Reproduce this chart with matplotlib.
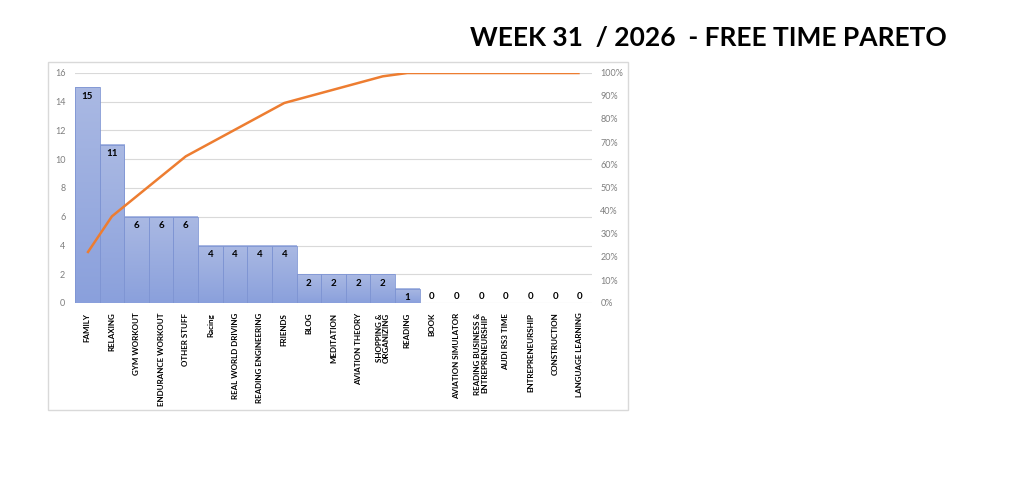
import numpy as np
import matplotlib
matplotlib.use("Agg")
import matplotlib.pyplot as plt
from matplotlib.patches import Rectangle
from matplotlib.ticker import PercentFormatter
from matplotlib.colors import LinearSegmentedColormap

categories = ["FAMILY", "RELAXING", "GYM WORKOUT", "ENDURANCE WORKOUT", "OTHER STUFF",
              "Racing", "REAL WORLD DRIVING", "READING ENGINEERING", "FRIENDS", "BLOG",
              "MEDITATION", "AVIATION THEORY", "SHOPPING &\nORGANIZING", "READING",
              "BOOK", "AVIATION SIMULATOR", "READING BUSINESS &\nENTREPRENEURSHIP",
              "AUDI RS3 TIME", "ENTREPRENEURSHIP", "CONSTRUCTION", "LANGUAGE LEARNING"]
hours = [15, 11, 6, 6, 6, 4, 4, 4, 4, 2, 2, 2, 2, 1, 0, 0, 0, 0, 0, 0, 0]
left_ticks = [0, 2, 4, 6, 8, 10, 12, 14, 16]
right_ticks = [0, 0.1, 0.2, 0.3, 0.4, 0.5, 0.6, 0.7, 0.8, 0.9, 1.0]
title = "WEEK 31  / 2026  - FREE TIME PARETO"

plt.rcParams['font.family'] = ['Lato', 'DejaVu Sans']

W, H = 1023, 484
fig = plt.figure(figsize=(W / 100, H / 100), dpi=100)
fig.patch.set_facecolor("white")

# chart border
fig.patches.append(Rectangle((48 / W, 1 - 410 / H), (628 - 48) / W, (410 - 62) / H,
                             transform=fig.transFigure, fill=False,
                             edgecolor="#d9d9d9", linewidth=1.0))

ax = fig.add_axes([75 / W, 1 - 303 / H, (592 - 75) / W, (303 - 73) / H])
x = np.arange(len(categories))
vals = np.array(hours, dtype=float)

# gradient bars
grad = np.linspace(0, 1, 256).reshape(-1, 1)
cmap = LinearSegmentedColormap.from_list("g", ["#8aa0dc", "#aab9e3"])
for xi, h in zip(x, vals):
    if h > 0:
        ax.imshow(grad, extent=[xi - 0.5, xi + 0.5, 0, h], origin="lower",
                  cmap=cmap, aspect="auto", zorder=2, interpolation="bilinear")
ax.bar(x, vals, width=1.0, facecolor="none", edgecolor="#7f95d3",
       linewidth=0.6, zorder=3)
ax.set_xlim(-0.5, len(categories) - 0.5)
ax.set_ylim(0, 16)

for xi, h in zip(x, vals):
    yv = h - 0.3 if h > 0 else 0.75
    ax.text(xi, yv, f"{int(h)}", ha="center", va="top", fontsize=7,
            fontweight="bold", color="black", zorder=5)

ax.set_yticks(left_ticks)
ax.yaxis.grid(True, color="#d9d9d9", linewidth=0.8, zorder=0)
ax.set_axisbelow(True)
ax.tick_params(axis="y", length=0, labelsize=6.5, labelcolor="#7f7f7f", pad=7)
ax.set_xticks(x)
ax.set_xticklabels(categories, rotation=90, fontsize=5.8, fontweight="bold",
                   ha="center", va="top", linespacing=1.05)
ax.tick_params(axis="x", length=0, pad=7)
for s in ax.spines.values():
    s.set_visible(False)

ax2 = ax.twinx()
cum = np.cumsum(vals) / vals.sum()
ax2.plot(x, cum, color="#ed7d31", linewidth=1.8, zorder=6, solid_capstyle="butt")
ax2.set_ylim(0, 1)
ax2.set_yticks(right_ticks)
ax2.yaxis.set_major_formatter(PercentFormatter(1.0, decimals=0))
ax2.tick_params(axis="y", length=0, labelsize=6.5, labelcolor="#7f7f7f", pad=6)
for s in ax2.spines.values():
    s.set_visible(False)

fig.text(708 / W, 1 - 38 / H, title, ha="center", va="center", fontsize=19,
         fontweight="bold", color="black")

fig.savefig("out.png", dpi=100)
